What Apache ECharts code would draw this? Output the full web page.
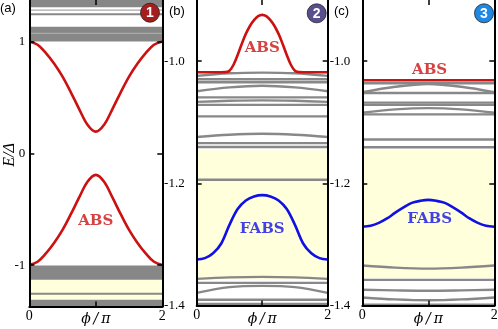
<!DOCTYPE html>
<html><head><meta charset="utf-8">
<script src="https://cdn.jsdelivr.net/npm/echarts@6/dist/echarts.min.js"></script>
<style>html,body{margin:0;padding:0;background:#fff}#c{width:498px;height:329px}</style>
</head><body><div id="c"></div>
<script>
// ---- data ----
const phi17 = [0,0.125,0.25,0.375,0.5,0.625,0.75,0.875,1,1.125,1.25,1.375,1.5,1.625,1.75,1.875,2];
const phi5 = [0,0.5,1,1.5,2];
const aAbsUpper = [1.000,0.970,0.895,0.800,0.685,0.545,0.395,0.255,0.193,0.255,0.395,0.545,0.685,0.800,0.895,0.970,1.000];
const aAbsLower = [-1.000,-0.970,-0.895,-0.800,-0.685,-0.545,-0.395,-0.255,-0.193,-0.255,-0.395,-0.545,-0.685,-0.800,-0.895,-0.970,-1.000];
const aGrayBands = [[1.306,1.37],[1.000,1.130],[-1.131,-1.003],[-1.37,-1.31]];
const aYellowBands = [[-1.31,-1.131]];
const aGrayLines = [1.242,-1.257];
const aLightLines = [1.280,1.071];
const bAbsPhi = [0,0.25,0.375,0.4375,0.5,0.5625,0.625,0.6875,0.75,0.8125,0.875,0.9375,1,1.0625,1.125,1.1875,1.25,1.3125,1.375,1.4375,1.5,1.5625,1.625,1.75,2];
const bAbs = [-1.0183,-1.0183,-1.0183,-1.0181,-1.0158,-1.0060,-0.9900,-0.9720,-0.9555,-0.9425,-0.9330,-0.9265,-0.9243,-0.9265,-0.9330,-0.9425,-0.9555,-0.9720,-0.9900,-1.0060,-1.0158,-1.0181,-1.0183,-1.0183,-1.0183];
const bFabs = [-1.3248,-1.3225,-1.3145,-1.2985,-1.2680,-1.2420,-1.2280,-1.2215,-1.2194,-1.2215,-1.2280,-1.2420,-1.2680,-1.2985,-1.3145,-1.3225,-1.3248];
const bYellow = [[-1.357,-1.146]];
const bGray = [
 [-1.0242,-1.0200,-1.0189,-1.0200,-1.0242],
 [-1.0296,-1.0296,-1.0296,-1.0296,-1.0296],
 [-1.0346,-1.0346,-1.0346,-1.0346,-1.0346],
 [-1.0494,-1.0430,-1.0403,-1.0430,-1.0494],
 [-1.0593,-1.0593,-1.0593,-1.0593,-1.0593],
 [-1.0667,-1.0650,-1.0642,-1.0650,-1.0667],
 [-1.0716,-1.0716,-1.0716,-1.0716,-1.0716],
 [-1.0905,-1.0905,-1.0905,-1.0905,-1.0905],
 [-1.1243,-1.1205,-1.1190,-1.1205,-1.1243],
 [-1.1342,-1.1342,-1.1342,-1.1342,-1.1342],
 [-1.1407,-1.1407,-1.1407,-1.1407,-1.1407],
 [-1.1942,-1.1942,-1.1942,-1.1942,-1.1942],
 [-1.3564,-1.3540,-1.3531,-1.3540,-1.3564],
 [-1.3630,-1.3630,-1.3630,-1.3630,-1.3630],
 [-1.3794,-1.3700,-1.3679,-1.3700,-1.3794],
 [-1.3906,-1.3906,-1.3906,-1.3906,-1.3906],
 [-1.3975,-1.3975,-1.3975,-1.3975,-1.3975]
];
const cAbs = [-1.0313,-1.0313,-1.0313,-1.0313,-1.0313];
const cFabs = [-1.2711,-1.2694,-1.2647,-1.2575,-1.2480,-1.2395,-1.2320,-1.2288,-1.2272,-1.2288,-1.2320,-1.2395,-1.2480,-1.2575,-1.2647,-1.2694,-1.2711];
const cYellow = [[-1.355,-1.145]];
const cGray = [
 [-1.0362,-1.0362,-1.0362,-1.0362,-1.0362],
 [-1.0510,-1.0420,-1.0374,-1.0420,-1.0510],
 [-1.0521,-1.0521,-1.0521,-1.0521,-1.0521],
 [-1.0680,-1.0680,-1.0680,-1.0680,-1.0680],
 [-1.0716,-1.0716,-1.0716,-1.0716,-1.0716],
 [-1.0845,-1.0790,-1.0769,-1.0790,-1.0845],
 [-1.0872,-1.0872,-1.0872,-1.0872,-1.0872],
 [-1.1284,-1.1284,-1.1284,-1.1284,-1.1284],
 [-1.1411,-1.1411,-1.1411,-1.1411,-1.1411],
 [-1.3346,-1.3380,-1.3396,-1.3380,-1.3346],
 [-1.3580,-1.3580,-1.3580,-1.3580,-1.3580],
 [-1.3742,-1.3752,-1.3758,-1.3752,-1.3742],
 [-1.3868,-1.3900,-1.3914,-1.3900,-1.3868],
 [-1.3988,-1.3988,-1.3988,-1.3988,-1.3988]
];
const yTicksA = [-1,0,1];
const yTicksBC = [-1.4,-1.2,-1.0];
const xTickVals = [0,1,2];
const xLabelVals = [0,2];
const xAxisTitle = '\u03D5\u2009/\u2009\u03C0';
const labelsText = [
 {panel:0, text:'ABS', phi:1, E:-0.61, color:'#cc1111'},
 {panel:1, text:'ABS', phi:1, E:-0.978, color:'#cc1111'},
 {panel:1, text:'FABS', phi:1, E:-1.2749, color:'#1010e6'},
 {panel:2, text:'ABS', phi:1.02, E:-1.0148, color:'#cc1111'},
 {panel:2, text:'FABS', phi:1.02, E:-1.2589, color:'#1010e6'}
];

// ---- styles ----
const RED = '#cc1111', BLUE = '#1010e6', GRAY = '#888888', YEL = '#ffffdc';
const serif = 'Liberation Serif';
const yRanges = [[-1.37,1.37],[-1.4,-0.9],[-1.4,-0.9]];
const grids = [
 {left:29.3, top:0, width:133, height:306.5, outerBoundsMode:'none'},
 {left:196.7, top:0, width:131, height:305.5, outerBoundsMode:'none'},
 {left:362.3, top:0, width:132, height:305.5, outerBoundsMode:'none'}
];

const xAxis = [], yAxis = [];
for (let i=0;i<3;i++){
  xAxis.push({type:'value', gridIndex:i, min:0, max:2, position:'bottom', z:10,
    axisLine:{show:true, onZero:false, lineStyle:{color:'#000', width:2}},
    axisTick:{show:true, inside:true, length:5, customValues:xTickVals, lineStyle:{color:'#000', width:1.5}},
    axisLabel:{show:true, customValues:xLabelVals, margin:3, color:'#000', fontFamily:serif, fontSize:14},
    splitLine:{show:false}});
}
for (let i=0;i<3;i++){
  xAxis.push({type:'value', gridIndex:i, min:0, max:2, position:'top', z:10,
    axisLine:{show:false, onZero:false},
    axisTick:{show:true, inside:true, length:5, customValues:[1], lineStyle:{color:'#000', width:1.5}},
    axisLabel:{show:false}, splitLine:{show:false}});
}
for (let i=0;i<3;i++){
  const tv = i===0 ? yTicksA : yTicksBC;
  yAxis.push({type:'value', gridIndex:i, min:yRanges[i][0], max:yRanges[i][1], position:'left', z:10,
    axisLine:{show:true, onZero:false, lineStyle:{color:'#000', width:2}},
    axisTick:{show:true, inside:true, length:5, customValues:tv, lineStyle:{color:'#000', width:1.5}},
    axisLabel:{show:true, customValues:tv, margin: i===0?4:12, color:'#000', fontFamily:serif, fontSize:13,
      formatter: v => i===0 ? String(Math.round(v)) : v.toFixed(1)},
    splitLine:{show:false}});
}
for (let i=0;i<3;i++){
  const tv = i===0 ? yTicksA : yTicksBC;
  yAxis.push({type:'value', gridIndex:i, min:yRanges[i][0], max:yRanges[i][1], position:'right', z:10,
    axisLine:{show:true, onZero:false, lineStyle:{color:'#000', width:2}},
    axisTick:{show:true, inside:true, length:5, customValues:tv, lineStyle:{color:'#000', width:1.5}},
    axisLabel:{show:false}, splitLine:{show:false}});
}

const series = [];
function line(i, xs, ys, color, width, z, smooth){
  series.push({type:'line', xAxisIndex:i, yAxisIndex:i, data: xs.map((x,k)=>[x, ys[k]]),
    showSymbol:false, symbol:'none', smooth: smooth===undefined?0.35:smooth, lineStyle:{color, width}, z, silent:true, animation:false});
}
function areas(i, bands, color, z){
  series.push({type:'line', xAxisIndex:i, yAxisIndex:i, data:[[0,yRanges[i][0]],[2,yRanges[i][0]]],
    showSymbol:false, symbol:'none', lineStyle:{opacity:0}, z, silent:true, animation:false,
    markArea:{silent:true, itemStyle:{color}, data: bands.map(b=>[{coord:[0,b[0]]},{coord:[2,b[1]]}])}});
}
// panel a
areas(0, aYellowBands, YEL, 1);
areas(0, aGrayBands, '#878787', 2);
aLightLines.forEach(v=>line(0,[0,2],[v,v],'#a9a9a9',1.2,3,false));
aGrayLines.forEach(v=>line(0,[0,2],[v,v],GRAY,2,3,false));
line(0, phi17, aAbsUpper, RED, 2.6, 5);
line(0, phi17, aAbsLower, RED, 2.6, 5);
// panel b
areas(1, bYellow, YEL, 1);
bGray.forEach(g=>line(1, phi5, g, GRAY, 2.4, 3));
line(1, bAbsPhi, bAbs, RED, 2.6, 5);
line(1, phi17, bFabs, BLUE, 2.6, 5);
// panel c
areas(2, cYellow, YEL, 1);
cGray.forEach(g=>line(2, phi5, g, GRAY, 2.4, 3));
line(2, phi5, cAbs, RED, 2.6, 5, false);
line(2, phi17, cFabs, BLUE, 2.6, 5);
// text labels
labelsText.forEach(l=>{
  series.push({type:'scatter', xAxisIndex:l.panel, yAxisIndex:l.panel, symbolSize:0, data:[[l.phi,l.E]], z:8, silent:true, animation:false,
    label:{show:true, position:'inside', formatter:l.text, color:l.color, fontFamily:'DejaVu Serif', fontWeight:'bold', fontSize:15}});
});

function badge(cx, cy, fill, num){
  return [
    {type:'circle', z:100, shape:{cx, cy, r:9.5}, style:{fill, stroke:'#222', lineWidth:0.8}},
    {type:'text', z:101, x:cx, y:cy+0.5, style:{text:num, fill:'#fff', fontFamily:'Liberation Sans', fontWeight:'bold', fontSize:14, align:'center', verticalAlign:'middle', textAlign:'center', textVerticalAlign:'middle'}}
  ];
}
function txt(x, y, text, extra){
  return {type:'text', z:100, x, y, style:Object.assign({text, fill:'#000', fontFamily:'Liberation Sans', fontSize:13, align:'left', verticalAlign:'middle', textAlign:'left', textVerticalAlign:'middle'}, extra||{})};
}
const centerStyle = {fontFamily:'DejaVu Serif', fontStyle:'italic', fontSize:14, align:'center', textAlign:'center'};
const graphic = [
  ...badge(150, 12.7, '#a41e1e', '1'),
  ...badge(316.7, 13.3, '#5a4e8e', '2'),
  ...badge(484, 13.3, '#1e88e5', '3'),
  txt(0, 8, '(a)'),
  txt(169, 11, '(b)'),
  txt(334, 11, '(c)'),
  txt(95.8, 319, xAxisTitle, centerStyle),
  txt(262.2, 319, xAxisTitle, centerStyle),
  txt(428.3, 319, xAxisTitle, centerStyle),
  {type:'text', z:100, x:10, y:155, rotation:Math.PI/2,
   style:{text:'E/\u0394', fill:'#000', fontFamily:serif, fontStyle:'italic', fontSize:16, align:'center', verticalAlign:'middle', textAlign:'center', textVerticalAlign:'middle'}}
];

const chart = echarts.init(document.getElementById('c'), null, {renderer:'canvas'});
chart.setOption({animation:false, grid:grids, xAxis, yAxis, series, graphic});
</script>
</body></html>
